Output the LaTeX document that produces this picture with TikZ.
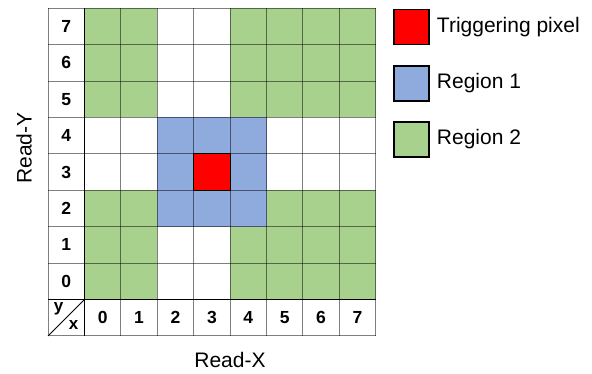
\documentclass[tikz,border=0pt]{standalone}
\usepackage{fontspec}
\setmainfont{Liberation Sans}
\usetikzlibrary{positioning}

\definecolor{regiongreen}{HTML}{A9D18E}
\definecolor{regionblue}{HTML}{8FAADC}
\definecolor{trigred}{HTML}{FF0000}

\tikzset{
  gridline/.style={draw=black, draw opacity=0.5, line width=0.9pt},
  heavyline/.style={draw=black, line width=1.6pt},
  num/.style={font=\fontsize{17.5}{17.5}\selectfont\bfseries, inner sep=0pt},
  legbox/.style={draw=black, line width=1.5pt, minimum size=35pt, inner sep=0pt},
  legtext/.style={font=\fontsize{21}{21}\selectfont, inner sep=0pt},
  axislabel/.style={font=\fontsize{21}{21}\selectfont, inner sep=0pt}
}

\begin{document}
\begin{tikzpicture}[x=1pt,y=-1pt]
\useasboundingbox (0,0) rectangle (592,374);
% coloured pixels: columns a..b, rows ja..jb
\foreach \a/\b/\ja/\jb in {0/1/0/2, 0/1/5/7, 4/7/0/1, 4/7/5/7, 5/7/2/2}
  \fill[regiongreen] ({84.5+36.4*\a},{8.3+36.4*(7-\jb)}) rectangle ({84.5+36.4*(\b+1)},{8.3+36.4*(8-\ja)});
\fill[regionblue] ({84.5+36.4*2},{8.3+36.4*3}) rectangle ({84.5+36.4*5},{8.3+36.4*6});
\fill[trigred] ({84.5+36.4*3},{8.3+36.4*4}) rectangle ({84.5+36.4*4},{8.3+36.4*5});
% grid
\foreach \i in {0,...,8}
  \draw[gridline] ({84.5+36.4*\i},8.3) -- ({84.5+36.4*\i},335.9);
\foreach \k in {0,...,9}
  \draw[gridline] (48,{8.3+36.4*\k}) -- (375.7,{8.3+36.4*\k});
\draw[gridline] (48,8.3) -- (48,335.9);
\draw[black, line width=0.9pt] ({84.5+36.4*3},{8.3+36.4*4}) rectangle ({84.5+36.4*4},{8.3+36.4*5});
\draw[heavyline] (84.5,8.3) -- (84.5,335.9);
\draw[heavyline] (48,299.5) -- (375.7,299.5);
\draw[black, line width=0.9pt] (48,335.9) -- (84.5,299.5);
% row and column numbers
\foreach \j in {0,...,7}
  \node[num] (row\j) at (66.25,{8.3+36.4*(7-\j)+18.2}) {\j};
\foreach \i in {0,...,7}
  \node[num] (col\i) at ({84.5+36.4*\i+18.2},317.7) {\i};
\node[num, font=\fontsize{17}{17}\selectfont\bfseries] (ylbl) at (58.5,309) {y};
\node[num, font=\fontsize{17}{17}\selectfont\bfseries] (xlbl) at (73.5,325) {x};
% axis names
\node[axislabel, rotate=90] (ready) at (24,148) {Read-Y};
\node[axislabel] (readx) at (230,360) {Read-X};
% legend
\node[legbox, fill=trigred] (legred) at (411.5,27) {};
\node[legbox, fill=regionblue] (legblue) at (411.5,83.3) {};
\node[legbox, fill=regiongreen] (leggreen) at (411.5,139.5) {};
\node[legtext, right=7pt of legred] (txtred) {Triggering pixel};
\node[legtext, right=7pt of legblue] (txtblue) {Region 1};
\node[legtext, right=7pt of leggreen] (txtgreen) {Region 2};
\end{tikzpicture}
\end{document}
